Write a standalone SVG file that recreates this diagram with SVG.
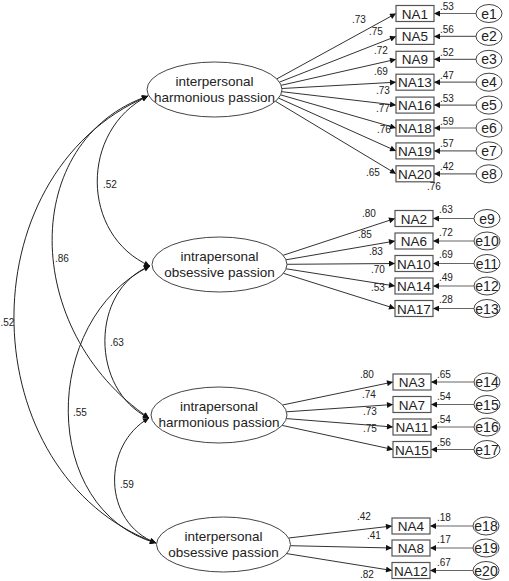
<svg xmlns="http://www.w3.org/2000/svg" width="509" height="581" viewBox="0 0 509 581">
<defs>
<marker id="ah" viewBox="0 0 10 10" refX="10" refY="5" markerWidth="8" markerHeight="6" markerUnits="userSpaceOnUse" orient="auto-start-reverse">
<path d="M0,0 L10,5 L0,10 z" fill="#111"/>
</marker>
<style>
.lat{fill:#fff;stroke:#444;stroke-width:1}
.box{fill:#fff;stroke:#555;stroke-width:1.2}
.err{fill:#fff;stroke:#444;stroke-width:1}
.ln{fill:none;stroke:#333;stroke-width:1}
.eln{fill:none;stroke:#666;stroke-width:1.2}
.cov{fill:none;stroke:#222;stroke-width:1}
.t{font-family:"Liberation Sans",Arial,sans-serif;fill:#222}
.ft{font-size:13.5px;text-anchor:middle}
.bt{font-size:13.5px;text-anchor:middle}
.et{font-size:14px;text-anchor:middle}
.s{font-size:10px}
</style>
</defs>

<g id="connectors">
<path class="cov" d="M148,96 C80,130 80,235 150,266" marker-start="url(#ah)" marker-end="url(#ah)"/>
<path class="cov" d="M148,96 C20,140 20,330 149,418" marker-start="url(#ah)" marker-end="url(#ah)"/>
<path class="cov" d="M148,96 C-36,175 -28,475 156,543" marker-start="url(#ah)" marker-end="url(#ah)"/>
<path class="cov" d="M150,266 C90,290 90,390 149,418" marker-start="url(#ah)" marker-end="url(#ah)"/>
<path class="cov" d="M150,266 C40,320 40,510 156,543" marker-start="url(#ah)" marker-end="url(#ah)"/>
<path class="cov" d="M149,418 C102,445 102,522 156,543" marker-start="url(#ah)" marker-end="url(#ah)"/>
<line class="ln" x1="276.8" y1="78.9" x2="396" y2="13.5" marker-end="url(#ah)"/>
<line class="ln" x1="279.5" y1="82.1" x2="396" y2="36.4" marker-end="url(#ah)"/>
<line class="ln" x1="281.2" y1="85.3" x2="396" y2="59.3" marker-end="url(#ah)"/>
<line class="ln" x1="282" y1="88.5" x2="396" y2="82.2" marker-end="url(#ah)"/>
<line class="ln" x1="281.8" y1="91.7" x2="396" y2="105.1" marker-end="url(#ah)"/>
<line class="ln" x1="280.7" y1="94.9" x2="396" y2="128" marker-end="url(#ah)"/>
<line class="ln" x1="278.6" y1="98.1" x2="396" y2="150.9" marker-end="url(#ah)"/>
<line class="ln" x1="275.5" y1="101.3" x2="396" y2="173.8" marker-end="url(#ah)"/>
<line class="ln" x1="283.1" y1="255.3" x2="395" y2="218.5" marker-end="url(#ah)"/>
<line class="ln" x1="286" y1="259.8" x2="395" y2="241" marker-end="url(#ah)"/>
<line class="ln" x1="287" y1="264.3" x2="395" y2="263.5" marker-end="url(#ah)"/>
<line class="ln" x1="286.2" y1="268.8" x2="395" y2="286" marker-end="url(#ah)"/>
<line class="ln" x1="283.4" y1="273.3" x2="395" y2="308.5" marker-end="url(#ah)"/>
<line class="ln" x1="282.5" y1="405" x2="393" y2="382" marker-end="url(#ah)"/>
<line class="ln" x1="286.6" y1="411.8" x2="393" y2="404.5" marker-end="url(#ah)"/>
<line class="ln" x1="286.4" y1="418.6" x2="393" y2="427" marker-end="url(#ah)"/>
<line class="ln" x1="282.1" y1="425.4" x2="393" y2="449.5" marker-end="url(#ah)"/>
<line class="ln" x1="288.6" y1="538" x2="392" y2="526" marker-end="url(#ah)"/>
<line class="ln" x1="290.4" y1="545.7" x2="392" y2="548" marker-end="url(#ah)"/>
<line class="ln" x1="286.7" y1="553.6" x2="392" y2="570.5" marker-end="url(#ah)"/>
<line class="eln" x1="476" y1="13.5" x2="434" y2="13.5" marker-end="url(#ah)"/>
<line class="eln" x1="476" y1="36.4" x2="434" y2="36.4" marker-end="url(#ah)"/>
<line class="eln" x1="476" y1="59.3" x2="434" y2="59.3" marker-end="url(#ah)"/>
<line class="eln" x1="476" y1="82.2" x2="434" y2="82.2" marker-end="url(#ah)"/>
<line class="eln" x1="476" y1="105.1" x2="434" y2="105.1" marker-end="url(#ah)"/>
<line class="eln" x1="476" y1="128" x2="434" y2="128" marker-end="url(#ah)"/>
<line class="eln" x1="476" y1="150.9" x2="434" y2="150.9" marker-end="url(#ah)"/>
<line class="eln" x1="476" y1="173.8" x2="434" y2="173.8" marker-end="url(#ah)"/>
<line class="eln" x1="474" y1="218.5" x2="433" y2="218.5" marker-end="url(#ah)"/>
<line class="eln" x1="474" y1="241" x2="433" y2="241" marker-end="url(#ah)"/>
<line class="eln" x1="474" y1="263.5" x2="433" y2="263.5" marker-end="url(#ah)"/>
<line class="eln" x1="474" y1="286" x2="433" y2="286" marker-end="url(#ah)"/>
<line class="eln" x1="474" y1="308.5" x2="433" y2="308.5" marker-end="url(#ah)"/>
<line class="eln" x1="474" y1="382" x2="431" y2="382" marker-end="url(#ah)"/>
<line class="eln" x1="474" y1="404.5" x2="431" y2="404.5" marker-end="url(#ah)"/>
<line class="eln" x1="474" y1="427" x2="431" y2="427" marker-end="url(#ah)"/>
<line class="eln" x1="474" y1="449.5" x2="431" y2="449.5" marker-end="url(#ah)"/>
<line class="eln" x1="473" y1="526" x2="430" y2="526" marker-end="url(#ah)"/>
<line class="eln" x1="473" y1="548" x2="430" y2="548" marker-end="url(#ah)"/>
<line class="eln" x1="473" y1="570.5" x2="430" y2="570.5" marker-end="url(#ah)"/>
<text class="t s" x="103" y="188">.52</text>
<text class="t s" x="55" y="262">.86</text>
<text class="t s" x="0.5" y="326">.52</text>
<text class="t s" x="110" y="346">.63</text>
<text class="t s" x="73" y="416">.55</text>
<text class="t s" x="120" y="488">.59</text>
<text class="t s" x="352" y="23">.73</text>
<text class="t s" x="369" y="35">.75</text>
<text class="t s" x="374" y="54">.72</text>
<text class="t s" x="374" y="75">.69</text>
<text class="t s" x="376" y="94">.73</text>
<text class="t s" x="376" y="112">.77</text>
<text class="t s" x="377" y="133">.76</text>
<text class="t s" x="366" y="176">.65</text>
<text class="t s" x="362" y="217">.80</text>
<text class="t s" x="358" y="238">.85</text>
<text class="t s" x="369" y="255">.83</text>
<text class="t s" x="371" y="273">.70</text>
<text class="t s" x="371" y="291">.53</text>
<text class="t s" x="360" y="378">.80</text>
<text class="t s" x="362" y="398">.74</text>
<text class="t s" x="363" y="415">.73</text>
<text class="t s" x="363" y="432">.75</text>
<text class="t s" x="357" y="520">.42</text>
<text class="t s" x="367" y="539">.41</text>
<text class="t s" x="360" y="578">.82</text>
</g>

<g id="F1">
<ellipse class="lat" cx="214.5" cy="89.5" rx="67.5" ry="27.5"/>
<text class="t ft" x="214.5" y="85.5">interpersonal</text>
<text class="t ft" x="214.5" y="101.5">harmonious passion</text>
</g>
<g id="F2">
<ellipse class="lat" cx="219.5" cy="264.5" rx="67.5" ry="27.5"/>
<text class="t ft" x="219.5" y="260.5">intrapersonal</text>
<text class="t ft" x="219.5" y="276.5">obsessive passion</text>
</g>
<g id="F3">
<ellipse class="lat" cx="219" cy="415" rx="68" ry="28"/>
<text class="t ft" x="219" y="411">intrapersonal</text>
<text class="t ft" x="219" y="427">harmonious passion</text>
</g>
<g id="F4">
<ellipse class="lat" cx="223.5" cy="544.5" rx="67" ry="27.5"/>
<text class="t ft" x="223.5" y="540.5">interpersonal</text>
<text class="t ft" x="223.5" y="556.5">obsessive passion</text>
</g>

<g id="NA1"><rect class="box" x="396" y="5.5" width="38" height="16"/><text class="t bt" x="415" y="18.5">NA1</text></g>
<g id="NA5"><rect class="box" x="396" y="28.4" width="38" height="16"/><text class="t bt" x="415" y="41.4">NA5</text></g>
<g id="NA9"><rect class="box" x="396" y="51.3" width="38" height="16"/><text class="t bt" x="415" y="64.3">NA9</text></g>
<g id="NA13"><rect class="box" x="396" y="74.2" width="38" height="16"/><text class="t bt" x="415" y="87.2">NA13</text></g>
<g id="NA16"><rect class="box" x="396" y="97.1" width="38" height="16"/><text class="t bt" x="415" y="110.1">NA16</text></g>
<g id="NA18"><rect class="box" x="396" y="120" width="38" height="16"/><text class="t bt" x="415" y="133">NA18</text></g>
<g id="NA19"><rect class="box" x="396" y="142.9" width="38" height="16"/><text class="t bt" x="415" y="155.9">NA19</text></g>
<g id="NA20"><rect class="box" x="396" y="165.8" width="38" height="16"/><text class="t bt" x="415" y="178.8">NA20</text><text class="t s" x="427" y="190">.76</text></g>

<g id="NA2"><rect class="box" x="395" y="210.5" width="38" height="16"/><text class="t bt" x="414" y="223.5">NA2</text></g>
<g id="NA6"><rect class="box" x="395" y="233" width="38" height="16"/><text class="t bt" x="414" y="246">NA6</text></g>
<g id="NA10"><rect class="box" x="395" y="255.5" width="38" height="16"/><text class="t bt" x="414" y="268.5">NA10</text></g>
<g id="NA14"><rect class="box" x="395" y="278" width="38" height="16"/><text class="t bt" x="414" y="291">NA14</text></g>
<g id="NA17"><rect class="box" x="395" y="300.5" width="38" height="16"/><text class="t bt" x="414" y="313.5">NA17</text></g>

<g id="NA3"><rect class="box" x="393" y="374" width="38" height="16"/><text class="t bt" x="412" y="387">NA3</text></g>
<g id="NA7"><rect class="box" x="393" y="396.5" width="38" height="16"/><text class="t bt" x="412" y="409.5">NA7</text></g>
<g id="NA11"><rect class="box" x="393" y="419" width="38" height="16"/><text class="t bt" x="412" y="432">NA11</text></g>
<g id="NA15"><rect class="box" x="393" y="441.5" width="38" height="16"/><text class="t bt" x="412" y="454.5">NA15</text></g>

<g id="NA4"><rect class="box" x="392" y="518" width="38" height="16"/><text class="t bt" x="411" y="531">NA4</text></g>
<g id="NA8"><rect class="box" x="392" y="540" width="38" height="16"/><text class="t bt" x="411" y="553">NA8</text></g>
<g id="NA12"><rect class="box" x="392" y="562.5" width="38" height="16"/><text class="t bt" x="411" y="575.5">NA12</text></g>

<g id="e1"><ellipse class="err" cx="489" cy="13.5" rx="13" ry="9"/><text class="t et" x="489" y="18.5">e1</text><text class="t s" x="440" y="10">.53</text></g>
<g id="e2"><ellipse class="err" cx="489" cy="36.4" rx="13" ry="9"/><text class="t et" x="489" y="41.4">e2</text><text class="t s" x="440" y="33">.56</text></g>
<g id="e3"><ellipse class="err" cx="489" cy="59.3" rx="13" ry="9"/><text class="t et" x="489" y="64.3">e3</text><text class="t s" x="440" y="56">.52</text></g>
<g id="e4"><ellipse class="err" cx="489" cy="82.2" rx="13" ry="9"/><text class="t et" x="489" y="87.2">e4</text><text class="t s" x="440" y="79">.47</text></g>
<g id="e5"><ellipse class="err" cx="489" cy="105.1" rx="13" ry="9"/><text class="t et" x="489" y="110.1">e5</text><text class="t s" x="440" y="102">.53</text></g>
<g id="e6"><ellipse class="err" cx="489" cy="128" rx="13" ry="9"/><text class="t et" x="489" y="133">e6</text><text class="t s" x="440" y="125">.59</text></g>
<g id="e7"><ellipse class="err" cx="489" cy="150.9" rx="13" ry="9"/><text class="t et" x="489" y="155.9">e7</text><text class="t s" x="440" y="147">.57</text></g>
<g id="e8"><ellipse class="err" cx="489" cy="173.8" rx="13" ry="9"/><text class="t et" x="489" y="178.8">e8</text><text class="t s" x="440" y="170">.42</text></g>

<g id="e9"><ellipse class="err" cx="487" cy="218.5" rx="13" ry="9"/><text class="t et" x="487" y="223.5">e9</text><text class="t s" x="439" y="213">.63</text></g>
<g id="e10"><ellipse class="err" cx="487" cy="241" rx="13" ry="9"/><text class="t et" x="487" y="246">e10</text><text class="t s" x="439" y="236">.72</text></g>
<g id="e11"><ellipse class="err" cx="487" cy="263.5" rx="13" ry="9"/><text class="t et" x="487" y="268.5">e11</text><text class="t s" x="439" y="258">.69</text></g>
<g id="e12"><ellipse class="err" cx="487" cy="286" rx="13" ry="9"/><text class="t et" x="487" y="291">e12</text><text class="t s" x="439" y="281">.49</text></g>
<g id="e13"><ellipse class="err" cx="487" cy="308.5" rx="13" ry="9"/><text class="t et" x="487" y="313.5">e13</text><text class="t s" x="439" y="303">.28</text></g>

<g id="e14"><ellipse class="err" cx="487" cy="382" rx="13" ry="9"/><text class="t et" x="487" y="387">e14</text><text class="t s" x="437" y="378">.65</text></g>
<g id="e15"><ellipse class="err" cx="487" cy="404.5" rx="13" ry="9"/><text class="t et" x="487" y="409.5">e15</text><text class="t s" x="437" y="400">.54</text></g>
<g id="e16"><ellipse class="err" cx="487" cy="427" rx="13" ry="9"/><text class="t et" x="487" y="432">e16</text><text class="t s" x="437" y="423">.54</text></g>
<g id="e17"><ellipse class="err" cx="487" cy="449.5" rx="13" ry="9"/><text class="t et" x="487" y="454.5">e17</text><text class="t s" x="437" y="446">.56</text></g>

<g id="e18"><ellipse class="err" cx="486" cy="526" rx="13" ry="9"/><text class="t et" x="486" y="531">e18</text><text class="t s" x="437" y="521">.18</text></g>
<g id="e19"><ellipse class="err" cx="486" cy="548" rx="13" ry="9"/><text class="t et" x="486" y="553">e19</text><text class="t s" x="437" y="543">.17</text></g>
<g id="e20"><ellipse class="err" cx="486" cy="570.5" rx="13" ry="9"/><text class="t et" x="486" y="575.5">e20</text><text class="t s" x="437" y="566">.67</text></g>
</svg>
